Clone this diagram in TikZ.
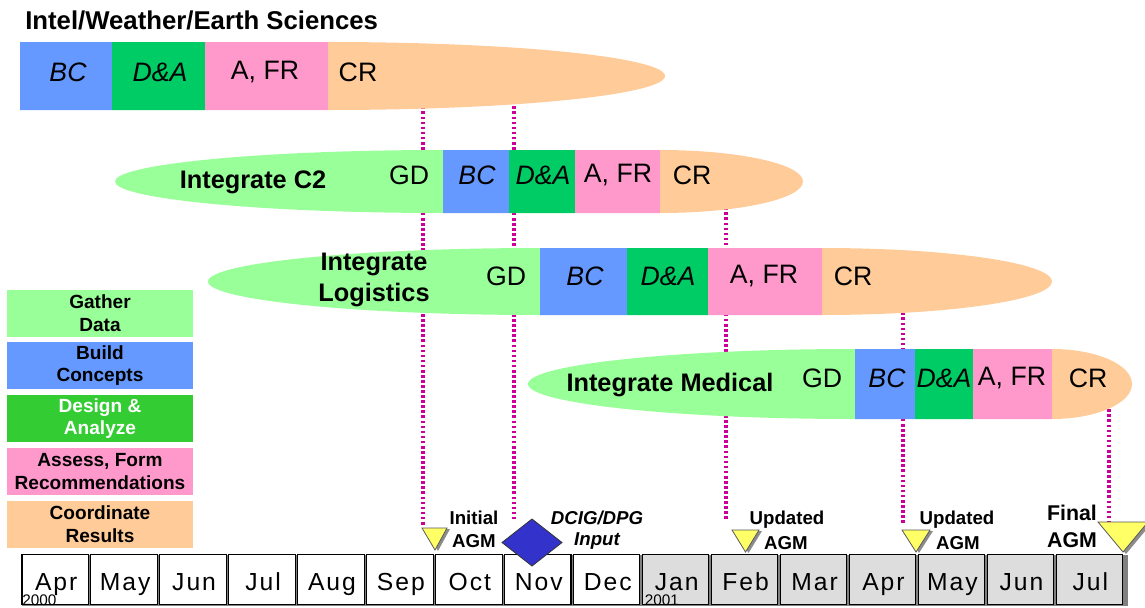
\documentclass[tikz,border=0pt]{standalone}
\usepackage{fontspec}
\setmainfont{Liberation Sans}
\usetikzlibrary{shapes.geometric}

\definecolor{gdc}{HTML}{99FF99}
\definecolor{bcc}{HTML}{6699FF}
\definecolor{dac}{HTML}{00CC66}
\definecolor{dalg}{HTML}{33CC33}
\definecolor{afc}{HTML}{FF99CC}
\definecolor{crc}{HTML}{FFCC99}
\definecolor{dotc}{HTML}{CC0099}
\definecolor{milec}{HTML}{FFFF66}
\definecolor{diac}{HTML}{3333CC}
\definecolor{cellg}{HTML}{DDDDDD}

% clip path of a phase band: left half-ellipse, straight middle, right half-ellipse
% #1 left centre x, #2 left radius, #3 right centre x, #4 right radius, #5 centre y, #6 half height
\newcommand\bandclip[6]{%
  \clip (#1,{#5-#6}) -- (#3,{#5-#6})
    arc[start angle=270,end angle=450,x radius=#4,y radius=#6]
    -- (#1,{#5+#6})
    arc[start angle=90,end angle=270,x radius=#2,y radius=#6] -- cycle;}

\begin{document}
\begin{tikzpicture}[x=0.75pt,y=-0.75pt,
  lbl/.style={inner sep=0, font=\fontsize{20}{24}\selectfont},
  lbli/.style={inner sep=0, font=\fontsize{20}{24}\selectfont\itshape},
  intg/.style={inner sep=0, align=center, font=\fontsize{19}{23}\selectfont\bfseries},
  titletext/.style={inner sep=0, font=\fontsize{19.3}{23}\selectfont\bfseries},
  legend/.style={minimum width=139.5pt, minimum height=35.25pt, inner sep=0, align=center,
    font=\fontsize{14.3}{17}\selectfont\bfseries},
  mile/.style={inner sep=0, align=center, font=\fontsize{14}{17}\selectfont\bfseries},
  dotline/.style={draw=dotc, line width=2.3pt, dash pattern=on 2pt off 1.8pt},
  monthcell/.style={draw=black, line width=0.8pt, minimum width=49.8pt, minimum height=38pt, inner sep=0},
  monthtxt/.style={inner sep=0, font=\fontsize{18.5}{22}\selectfont\addfontfeatures{LetterSpace=8}},
  yeartxt/.style={inner sep=0, font=\fontsize{11.5}{13}\selectfont},
  tri/.style={fill=milec, draw=black!65, line width=0.6pt},
  trishadow/.style={fill=black!45},
]
\useasboundingbox (0,0) rectangle (1145,607);

% title
\node[titletext, anchor=west] (title) at (25,20) {Intel/Weather/Earth Sciences};

% dotted milestone lines (behind the bands)
\coordinate (d1a) at (423,76);   \coordinate (d1b) at (423,525);
\coordinate (d2a) at (514,76);   \coordinate (d2b) at (514,520);
\coordinate (d3a) at (726,182);  \coordinate (d3b) at (726,520);
\coordinate (d4a) at (903,282);  \coordinate (d4b) at (903,523);
\coordinate (d5a) at (1109,384); \coordinate (d5b) at (1109,522);
\draw[dotline] (d1a) -- (d1b);
\draw[dotline] (d2a) -- (d2b);
\draw[dotline] (d3a) -- (d3b);
\draw[dotline] (d4a) -- (d4b);
\draw[dotline] (d5a) -- (d5b);

% Intel / Weather / Earth Sciences band
\begin{scope}
  \clip (20,42) -- (328,42) arc[start angle=270,end angle=450,x radius=337,y radius=34] -- (20,110) -- cycle;
  \fill[bcc] (20,40) rectangle (112,112);
  \fill[dac] (112,40) rectangle (205,112);
  \fill[afc] (205,40) rectangle (328,112);
  \fill[crc] (328,40) rectangle (670,112);
\end{scope}
\node[lbli] (i-bc) at (68,72) {BC};
\node[lbli] (i-da) at (160,72) {D\&A};
\node[lbl]  (i-af) at (265,72) {A, FR};
\node[lbl]  (i-cr) at (358,72) {CR};

% Integrate C2 band
\begin{scope}
  \bandclip{443}{328}{660}{143}{181.5}{31.5}
  \fill[gdc] (110,145) rectangle (443,218);
  \fill[bcc] (443,145) rectangle (509,218);
  \fill[dac] (509,145) rectangle (575,218);
  \fill[afc] (575,145) rectangle (660,218);
  \fill[crc] (660,145) rectangle (810,218);
\end{scope}
\node[intg] (c2) at (253,182) {Integrate C2};
\node[lbl]  (c-gd) at (409,175) {GD};
\node[lbli] (c-bc) at (477,175) {BC};
\node[lbli] (c-da) at (543,175) {D\&A};
\node[lbl]  (c-af) at (618,175) {A, FR};
\node[lbl]  (c-cr) at (692,175) {CR};

% Integrate Logistics band
\begin{scope}
  \bandclip{540}{332}{822}{230}{281.5}{33.5}
  \fill[gdc] (200,244) rectangle (540,320);
  \fill[bcc] (540,244) rectangle (627,320);
  \fill[dac] (627,244) rectangle (708,320);
  \fill[afc] (708,244) rectangle (822,320);
  \fill[crc] (822,244) rectangle (1060,320);
\end{scope}
\node[intg] (lg) at (374,280) {Integrate\\Logistics};
\node[lbl]  (l-gd) at (506,276) {GD};
\node[lbli] (l-bc) at (585,276) {BC};
\node[lbli] (l-da) at (668,276) {D\&A};
\node[lbl]  (l-af) at (764,276) {A, FR};
\node[lbl]  (l-cr) at (853,276) {CR};

% Integrate Medical band
\begin{scope}
  \bandclip{855}{327}{1052}{80}{384}{35}
  \fill[gdc] (520,345) rectangle (855,424);
  \fill[bcc] (855,345) rectangle (915,424);
  \fill[dac] (915,345) rectangle (973,424);
  \fill[afc] (973,345) rectangle (1052,424);
  \fill[crc] (1052,345) rectangle (1140,424);
\end{scope}
\node[intg] (md) at (670,385) {Integrate Medical};
\node[lbl]  (m-gd) at (822,378) {GD};
\node[lbli] (m-bc) at (887,378) {BC};
\node[lbli] (m-da) at (944,378) {D\&A};
\node[lbl]  (m-af) at (1012,378) {A, FR};
\node[lbl]  (m-cr) at (1088,378) {CR};

% legend
\node[legend, fill=gdc]  (lg1) at (100,313)   {Gather\\Data};
\node[legend, fill=bcc]  (lg2) at (100,365.5) {Build\\Concepts};
\node[legend, fill=dalg, text=white] (lg3) at (100,418.5) {Design \&\\Analyze};
\node[legend, fill=afc]  (lg4) at (100,471.5) {Assess, Form\\Recommendations};
\node[legend, fill=crc]  (lg5) at (100,524)   {Coordinate\\Results};

% month timeline
\fill[black!50] (22,555) rectangle (1127.5,605.5);
\foreach \m [count=\i from 0] in {Apr,May,Jun,Jul,Aug,Sep,Oct,Nov,Dec,Jan,Feb,Mar,Apr,May,Jun,Jul}{
  \pgfmathsetmacro\cx{22+68.94*\i+33.2}
  \ifnum\i<9 \def\cf{white}\else\def\cf{cellg}\fi
  \node[monthcell, fill=\cf] (cell\i) at (\cx,579.5) {};
  \node[monthtxt, anchor=base] (mon\i) at (\cx+1,590.5) {\m};
}
\node[yeartxt, anchor=base west] (y2000) at (22,605) {2000};
\node[yeartxt, anchor=base west] (y2001) at (644.5,605) {2001};

% milestone markers
\fill[trishadow] (425,529) -- (450,529) -- (438,551) -- cycle;
\filldraw[tri] (422,528) -- (447,528) -- (435,550) -- cycle;
\fill[trishadow] (735,531) -- (762,531) -- (748.5,553) -- cycle;
\filldraw[tri] (732,530) -- (759,530) -- (745.5,552) -- cycle;
\fill[trishadow] (905,531) -- (933,531) -- (919,553) -- cycle;
\filldraw[tri] (902,530) -- (930,530) -- (916,552) -- cycle;
\fill[trishadow] (1101,524) -- (1151,524) -- (1126,554) -- cycle;
\filldraw[tri] (1098,522) -- (1148,522) -- (1123,552) -- cycle;

% DCIG/DPG input marker
\filldraw[fill=diac, draw=black!80, line width=0.6pt] (502,542.5) -- (532,519) -- (562,542.5) -- (532,566) -- cycle;

% milestone labels
\node[mile] (ms1a) at (474,518) {Initial};
\node[mile] (ms1b) at (474,541) {AGM};
\node[mile, font=\fontsize{14}{17}\selectfont\bfseries\itshape] (ms2a) at (597,518) {DCIG/DPG};
\node[mile, font=\fontsize{14}{17}\selectfont\bfseries\itshape] (ms2b) at (597,541) {Input};
\node[mile] (ms3a) at (787,520) {Updated};
\node[mile] (ms3b) at (786,543) {AGM};
\node[mile] (ms4a) at (957,520) {Updated};
\node[mile] (ms4b) at (958,543) {AGM};
\node[mile, font=\fontsize{16}{19}\selectfont\bfseries] (ms5a) at (1072,513) {Final};
\node[mile, font=\fontsize{16}{19}\selectfont\bfseries] (ms5b) at (1072,540) {AGM};
\end{tikzpicture}
\end{document}
